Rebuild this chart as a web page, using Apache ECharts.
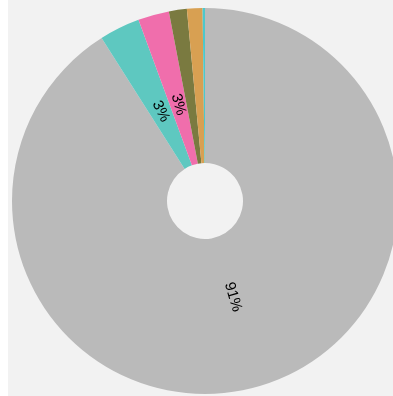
<!DOCTYPE html>
<html><head><meta charset="utf-8">
<script src="https://cdn.jsdelivr.net/npm/echarts@6/dist/echarts.min.js"></script>
<style>html,body{margin:0;padding:0;background:#fff;}#c{position:absolute;left:8px;top:0;width:385px;height:396px;background:#f2f2f2;}</style>
</head><body><div id="c"></div>
<script>
const categories = ['A','B','C','D','E','F'];
const values = [91, 3.4, 2.6, 1.5, 1.3, 0.2];
const colors = ['#bababa','#5ec8c0','#f06eac','#7a7a40','#d8a052','#4cc8cc'];
const total = values.reduce((a,b)=>a+b,0);
const data = categories.map((c,i)=>({name:c,value:values[i]}));
const chart = echarts.init(document.getElementById('c'));
chart.setOption({
  animation:false,
  color: colors,
  series:[{
    type:'pie', center:[197,201], radius:[38,193], startAngle:90, clockwise:true,
    silent:true, label:{show:false}, labelLine:{show:false}, data:data
  },{
    type:'pie', center:[197,201], radius:[0,194], startAngle:90, clockwise:true,
    silent:true, itemStyle:{color:'rgba(0,0,0,0)'}, labelLine:{show:false},
    minShowLabelAngle: 8,
    label:{show:true, position:'inside', rotate:'radial', color:'#000', fontSize:15, fontFamily:'Arial, Liberation Sans, sans-serif',
      formatter:p=>Math.round(p.value/total*100)+'%'},
    data:data
  }]
});
</script></body></html>
